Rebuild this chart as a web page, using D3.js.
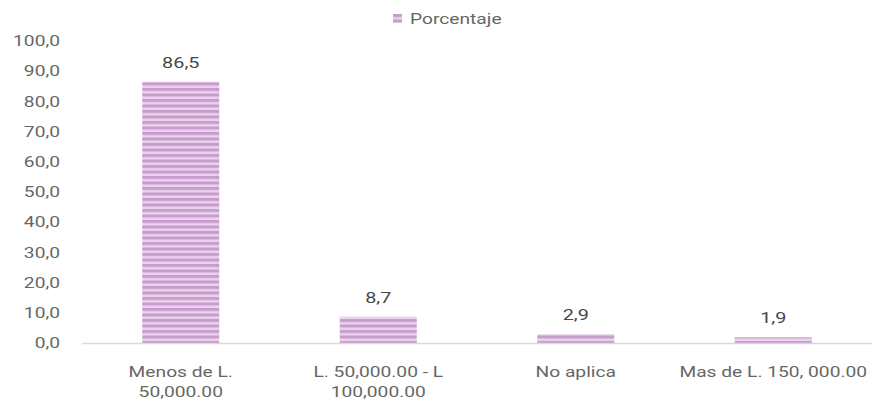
<!DOCTYPE html>
<html>
<head>
<meta charset="utf-8">
<script src="https://cdn.jsdelivr.net/npm/d3@7"></script>
<style>
  body { margin: 0; background: #fff; }
  text { font-family: Roboto, "Noto Sans", sans-serif; fill: #666666; }
</style>
</head>
<body>
<div id="chart"></div>
<script>
const categories = [
    ["Menos de L.", "50,000.00"],
    ["L. 50,000.00 - L", "100,000.00"],
    ["No aplica"],
    ["Mas de L. 150, 000.00"]
];
const values = [86.5, 8.7, 2.9, 1.9];
const yTicks = [0, 10, 20, 30, 40, 50, 60, 70, 80, 90, 100];
const seriesName = "Porcentaje";

const width = 875, height = 404;
const margin = {top: 41, right: 3, bottom: 61, left: 82};
const sx = 1.28; // text is drawn wide in the original

const fmt = v => v.toFixed(1).replace(".", ",");
const place = (x, y) => `translate(${x},${y}) scale(${sx},1)`;

const svg = d3.select("#chart").append("svg")
    .attr("width", width)
    .attr("height", height);

const defs = svg.append("defs");
const pat = defs.append("pattern")
    .attr("id", "stripes")
    .attr("patternUnits", "userSpaceOnUse")
    .attr("width", 6)
    .attr("height", 5.5);
pat.append("rect").attr("width", 6).attr("height", 5.5).attr("fill", "#ead3ec");
pat.append("rect").attr("width", 6).attr("height", 3).attr("fill", "#c99cce");

const x = d3.scaleBand()
    .domain(d3.range(categories.length))
    .range([margin.left, width - margin.right])
    .paddingInner(0.61)
    .paddingOuter(0.305);

const y = d3.scaleLinear()
    .domain([0, 100])
    .range([height - margin.bottom, margin.top]);

// y axis labels
svg.append("g")
    .selectAll("text")
    .data(yTicks)
    .enter()
    .append("text")
    .attr("transform", d => place(60, y(d)))
    .attr("dy", "0.35em")
    .attr("text-anchor", "end")
    .style("font-size", "15px")
    .text(d => fmt(d));

// bars
svg.append("g")
    .selectAll("rect")
    .data(values)
    .enter()
    .append("rect")
    .attr("x", (d, i) => x(i))
    .attr("y", d => y(d))
    .attr("width", x.bandwidth())
    .attr("height", d => y(0) - y(d))
    .attr("fill", "url(#stripes)");

// baseline
svg.append("line")
    .attr("x1", margin.left)
    .attr("x2", width - margin.right)
    .attr("y1", y(0) + 0.5)
    .attr("y2", y(0) + 0.5)
    .attr("stroke", "#d9d9d9")
    .attr("stroke-width", 1.5);

// value labels
svg.append("g")
    .selectAll("text")
    .data(values)
    .enter()
    .append("text")
    .attr("transform", (d, i) => place(x(i) + x.bandwidth() / 2, y(d) - 14))
    .attr("text-anchor", "middle")
    .style("font-size", "15.5px")
    .style("fill", "#474747")
    .text(d => fmt(d));

// category labels
const cat = svg.append("g")
    .selectAll("text")
    .data(categories)
    .enter()
    .append("text")
    .attr("transform", (d, i) => place(x(i) + x.bandwidth() / 2, 377))
    .attr("text-anchor", "middle")
    .style("font-size", "15px");
cat.selectAll("tspan")
    .data(d => d)
    .enter()
    .append("tspan")
    .attr("x", 0)
    .attr("dy", (d, i) => i == 0 ? 0 : 20)
    .text(d => d);

// legend
const legend = svg.append("g").attr("transform", "translate(393,14)");
legend.append("rect")
    .attr("width", 9)
    .attr("height", 9)
    .attr("fill", "url(#stripes)");
legend.append("text")
    .attr("transform", place(17, 4.5))
    .attr("dy", "0.35em")
    .style("font-size", "15px")
    .text(seriesName);
</script>
</body>
</html>
